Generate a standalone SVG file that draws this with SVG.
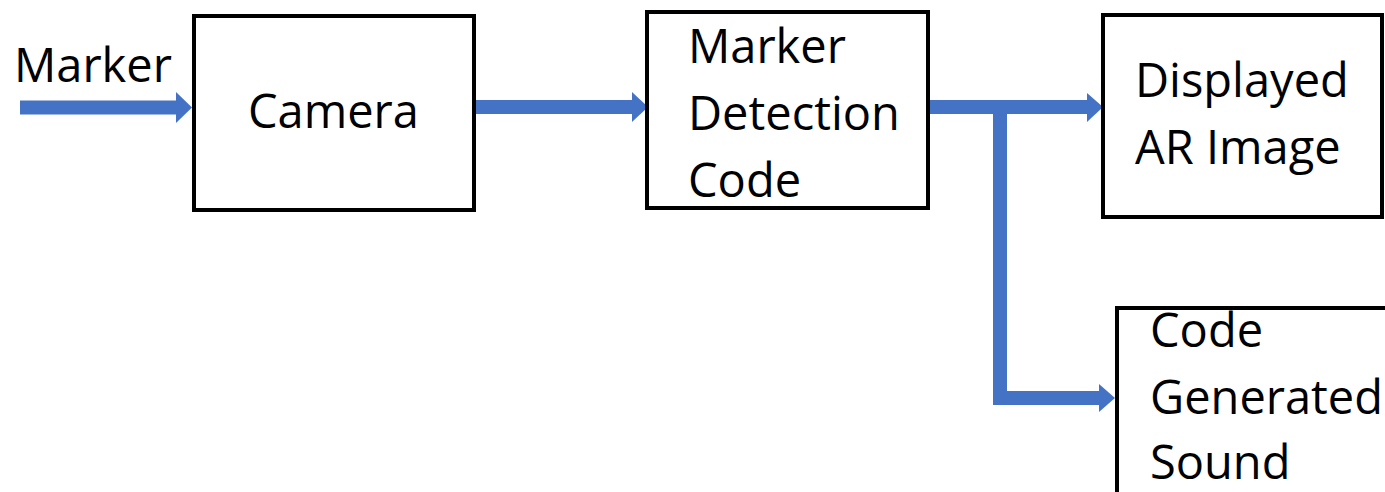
<svg xmlns="http://www.w3.org/2000/svg" width="1385" height="492" viewBox="0 0 1385 492">
<style>
.box{fill:#fff;stroke:#000;stroke-width:4}
.t{font-family:"Open Sans","Noto Sans",sans-serif;font-size:47px;fill:#000}
.c{fill:none;stroke:#4472C4;stroke-width:14}
.h{fill:#4472C4}
</style>
<rect width="1385" height="492" fill="#fff"/>
<g id="connectors">
<line class="c" x1="20" y1="107.5" x2="178" y2="107.5"/>
<polygon class="h" points="176,92 192,107.5 176,123"/>
<line class="c" x1="476" y1="107" x2="634" y2="107"/>
<polygon class="h" points="632,92 648,107 632,122"/>
<line class="c" x1="929" y1="107" x2="1089" y2="107"/>
<polygon class="h" points="1087,93 1103,107 1087,122"/>
<polyline class="c" points="1000,107 1000,398 1101,398"/>
<polygon class="h" points="1099,384 1115,398 1099,412"/>
</g>
<g id="marker-label">
<text class="t" x="14" y="82">Marker</text>
</g>
<g id="camera">
<rect class="box" x="194" y="16" width="280" height="194"/>
<text class="t" x="248" y="128">Camera</text>
</g>
<g id="marker-detection-code">
<rect class="box" x="647" y="12" width="281" height="196"/>
<text class="t" x="688" y="63">Marker</text>
<text class="t" x="688" y="130">Detection</text>
<text class="t" x="688" y="197">Code</text>
</g>
<g id="displayed-ar-image">
<rect class="box" x="1103" y="15" width="279" height="202"/>
<text class="t" x="1135" y="97">Displayed</text>
<text class="t" x="1135" y="164">AR Image</text>
</g>
<g id="code-generated-sound">
<rect class="box" x="1117" y="308" width="290" height="210"/>
<text class="t" x="1150" y="347">Code</text>
<text class="t" x="1150" y="414">Generated</text>
<text class="t" x="1150" y="479">Sound</text>
</g>
</svg>
